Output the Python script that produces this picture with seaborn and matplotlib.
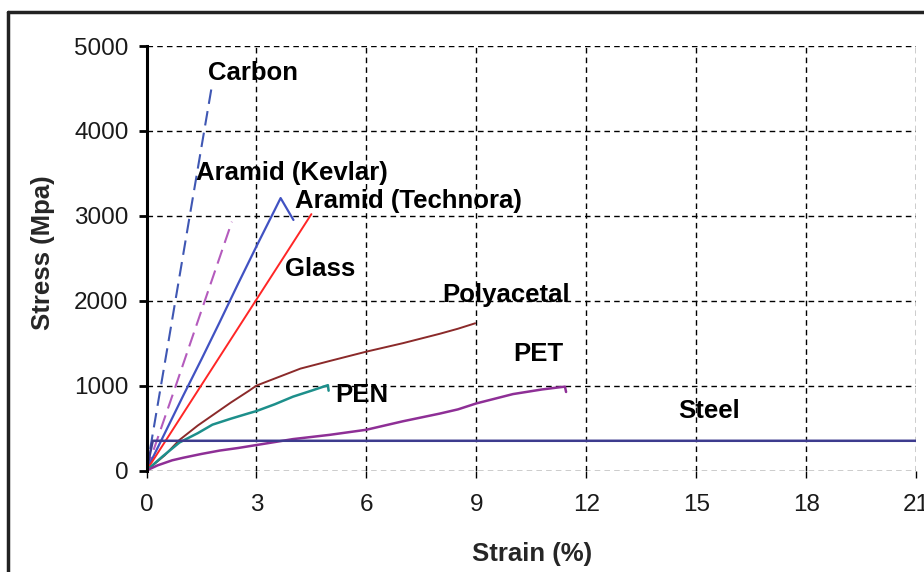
import matplotlib
matplotlib.use("Agg")
import matplotlib.pyplot as plt
import seaborn as sns
import pandas as pd
from matplotlib.lines import Line2D

# ---- data ----
carbon_x = [0, 0.6, 1.2, 1.78]
carbon_y = [0, 1520, 3050, 4520]

kevlar_x = [0, 0.8, 1.6, 2.33]
kevlar_y = [0, 1000, 2010, 2930]

technora_x = [0, 0.5, 1.0, 1.5, 2.0, 2.5, 3.0, 3.5, 3.66, 4.01]
technora_y = [0, 440, 880, 1310, 1750, 2200, 2640, 3070, 3209, 2951]

glass_x = [0, 4.5]
glass_y = [0, 3020]

polyacetal_x = [0, 0.5, 0.9, 1.4, 1.8, 2.3, 2.8, 3.0, 3.6, 4.2, 5.0, 6.0, 7.0, 8.0, 8.5, 8.97]
polyacetal_y = [0, 180, 360, 530, 650, 800, 940, 1000, 1100, 1200, 1290, 1400, 1500, 1610, 1670, 1734]

pen_x = [0, 0.45, 0.9, 1.4, 1.8, 2.3, 2.8, 3.0, 3.5, 4.0, 4.5, 4.95, 4.97]
pen_y = [0, 170, 330, 440, 540, 610, 675, 700, 780, 870, 940, 1005, 940]

pet_x = [0, 0.3, 0.7, 1.0, 1.5, 2.0, 2.5, 3.0, 4.0, 5.0, 6.0, 7.0, 8.0, 8.5, 9.0, 10.0, 10.8, 11.42, 11.45]
pet_y = [0, 60, 120, 150, 195, 235, 265, 300, 370, 420, 480, 580, 670, 720, 790, 900, 955, 988, 925]

steel_x = [0, 0.17, 21]
steel_y = [0, 350, 350]

x_ticks = [0, 3, 6, 9, 12, 15, 18, 21]
y_ticks = [0, 1000, 2000, 3000, 4000, 5000]

labels = ["Carbon", "Aramid (Kevlar)", "Aramid (Technora)", "Glass",
          "Polyacetal", "PEN", "PET", "Steel"]
label_x = [1.68, 1.34, 4.06, 3.78, 8.06, 5.15, 10.02, 14.52]
label_y = [4600, 3426, 3090, 2290, 1987, 804, 1291, 619]

# ---- figure ----
sns.set_theme(style="white")
plt.rcParams["font.family"] = ["Liberation Sans", "DejaVu Sans"]

fig = plt.figure(figsize=(9.24, 5.72), dpi=100)
ax = fig.add_axes([146.5 / 924, 1 - 470.5 / 572, (916 - 146.5) / 924, (470.5 - 46) / 572])

series = [
    (carbon_x, carbon_y, "#3f57b3", (0, (7, 3.5)), 1.5),
    (kevlar_x, kevlar_y, "#b45bbd", (0, (7, 3.5)), 1.5),
    (technora_x, technora_y, "#4152c2", "-", 1.6),
    (glass_x, glass_y, "#ff2626", "-", 1.4),
    (polyacetal_x, polyacetal_y, "#8b2a2a", "-", 1.4),
    (pen_x, pen_y, "#1d8f8b", "-", 1.8),
    (pet_x, pet_y, "#8e2f96", "-", 1.8),
    (steel_x, steel_y, "#3d3b8e", "-", 1.8),
]
for xs, ys, col, ls, lw in series:
    df = pd.DataFrame({"x": xs, "y": ys})
    sns.lineplot(data=df, x="x", y="y", ax=ax, color=col, linestyle=ls,
                 linewidth=lw, sort=False, estimator=None)

for t, lx, ly in zip(labels, label_x, label_y):
    ax.text(lx, ly, t, fontsize=18.5, fontweight="bold", color="black",
            ha="left", va="baseline")

ax.set_xlim(0, 21)
ax.set_ylim(0, 5000)
ax.set_xticks(x_ticks)
ax.set_yticks(y_ticks)
ax.set_xticklabels([str(v) for v in x_ticks])
ax.set_yticklabels([str(v) for v in y_ticks])
ax.set_xlabel("")
ax.set_ylabel("")

ax.grid(True, color="black", linestyle=(0, (4, 3)), linewidth=1.0)
for s in ["top", "right", "bottom"]:
    ax.spines[s].set_visible(False)
ax.spines["left"].set_color("black")
ax.spines["left"].set_linewidth(2.2)
ax.spines["left"].set_zorder(5)

ax.tick_params(axis="y", direction="out", length=6, width=2, color="black",
               labelsize=17.5, pad=7, left=True)
ax.tick_params(axis="x", direction="out", length=5, width=1, color="black",
               labelsize=17.5, pad=12, bottom=True)
for lab in ax.get_xticklabels() + ax.get_yticklabels():
    lab.set_color("#1a1a1a")

fig.text(43 / 924, 1 - 253 / 572, "Stress (Mpa)", rotation=90, ha="center",
         va="center", fontsize=18.5, fontweight="bold")
fig.text(531.7 / 924, 1 - 554 / 572, "Strain (%)", ha="center", va="center",
         fontsize=18.5, fontweight="bold")

# outer frame (only top and left edges visible in reference)
fig.add_artist(Line2D([8 / 924, 8 / 924], [0, 1 - 12 / 572], transform=fig.transFigure,
                      color="#222222", linewidth=2.5))
fig.add_artist(Line2D([8 / 924, 1], [1 - 12 / 572, 1 - 12 / 572], transform=fig.transFigure,
                      color="#222222", linewidth=2.5))

fig.savefig("out.png", dpi=100)
